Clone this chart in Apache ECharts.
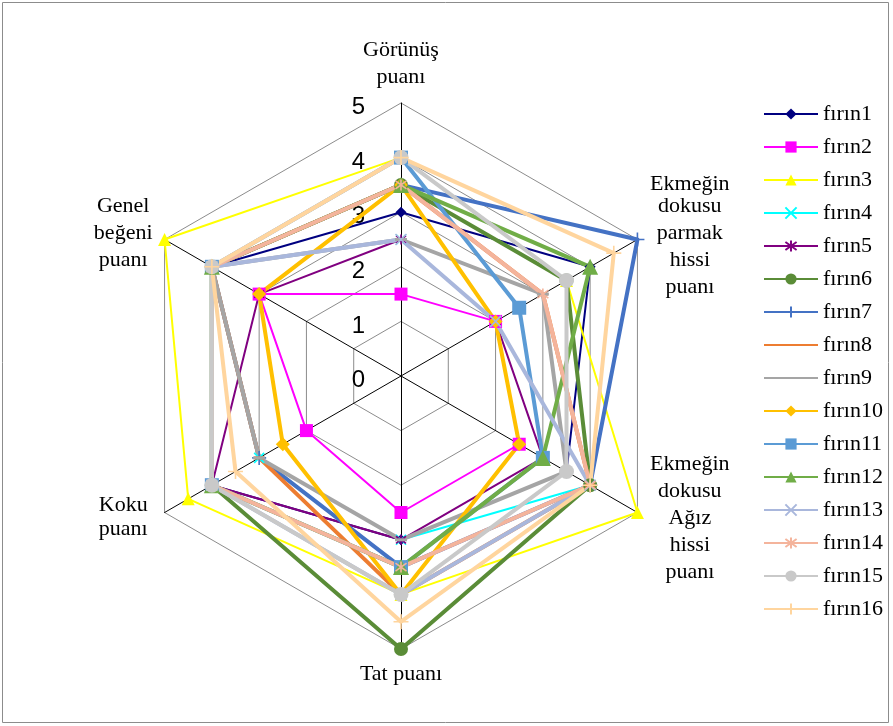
<!DOCTYPE html>
<html>
<head>
<meta charset="utf-8">
<script src="https://cdn.jsdelivr.net/npm/echarts@6/dist/echarts.min.js"></script>
<style>
html, body { margin: 0; padding: 0; background: #fff; }
#chart { width: 893px; height: 726px; }
</style>
</head>
<body>
<div id="chart"></div>
<script>
// Sensory criteria, listed clockwise starting from the top spoke
const criteria = [
  'Görünüş\npuanı',
  'Ekmeğin\ndokusu\nparmak\nhissi\npuanı',
  'Ekmeğin\ndokusu\nAğız\nhissi\npuanı',
  'Tat puanı',
  'Koku\npuanı',
  'Genel\nbeğeni\npuanı'
];
const scoreMin = 0;
const scoreMax = 5;

const ovens = ['fırın1', 'fırın2', 'fırın3', 'fırın4', 'fırın5', 'fırın6', 'fırın7', 'fırın8',
  'fırın9', 'fırın10', 'fırın11', 'fırın12', 'fırın13', 'fırın14', 'fırın15', 'fırın16'];

// Mean scores per oven, in the same order as the criteria
const firin1  = [3,   4,   3.5, 3,   4,   4];
const firin2  = [1.5, 2,   2.5, 2.5, 2,   3];
const firin3  = [4,   3.5, 5,   4,   4.5, 5];
const firin4  = [2.5, 2,   4,   3,   3,   4];
const firin5  = [2.5, 2,   3,   3,   4,   3];
const firin6  = [3.5, 3.5, 4,   5,   4,   4];
const firin7  = [3.5, 5,   4,   3.5, 3,   4];
const firin8  = [3.5, 3,   4,   4,   3,   4];
const firin9  = [2.5, 3,   3.5, 3,   3,   4];
const firin10 = [3.5, 2,   2.5, 4,   2.5, 3];
const firin11 = [4,   2.5, 3,   3.5, 4,   4];
const firin12 = [3.5, 4,   3,   3.5, 4,   4];
const firin13 = [2.5, 2,   4,   4,   4,   4];
const firin14 = [3.5, 3,   4,   3.5, 4,   4];
const firin15 = [4,   3.5, 3.5, 4,   4,   4];
const firin16 = [4,   4.5, 4,   4.5, 3.5, 4];

const scores = [firin1, firin2, firin3, firin4, firin5, firin6, firin7, firin8,
  firin9, firin10, firin11, firin12, firin13, firin14, firin15, firin16];

// Marker shapes
const CROSS = 'path://M0,0L10,10M10,0L0,10';
const STAR = 'path://M0,0L10,10M10,0L0,10M5,-2L5,12';
const PLUS = 'path://M0,5L10,5M5,0L5,10';

// dash markers: a flat rect on the web, nothing extra on the legend key
const styles = [
  { color: '#000080', symbol: 'diamond', size: 11, width: 2 },
  { color: '#FF00FF', symbol: 'rect', size: 13, width: 2 },
  { color: '#FFFF00', symbol: 'triangle', size: 13, width: 2 },
  { color: '#00FFFF', symbol: CROSS, size: 10, width: 2, stroke: true },
  { color: '#800080', symbol: STAR, size: 10, width: 2, stroke: true },
  { color: '#5A8C37', symbol: 'circle', size: 14, width: 4 },
  { color: '#4472C4', symbol: PLUS, size: 14, width: 4, stroke: true },
  { color: '#ED7D31', symbol: 'rect', size: [10, 3], width: 4, dash: true },
  { color: '#A5A5A5', symbol: 'rect', size: [12, 3], width: 4, dash: true },
  { color: '#FFC000', symbol: 'diamond', size: 14, width: 4 },
  { color: '#5B9BD5', symbol: 'rect', size: 14, width: 4 },
  { color: '#70AD47', symbol: 'triangle', size: 16, width: 4 },
  { color: '#A9B7DC', symbol: CROSS, size: 11, width: 4, stroke: true },
  { color: '#F4B49C', symbol: STAR, size: 11, width: 4, stroke: true },
  { color: '#C9C9C9', symbol: 'circle', size: 15, width: 4 },
  { color: '#FFD59E', symbol: PLUS, size: 15, width: 4, stroke: true }
];

// ECharts places radar indicators counter-clockwise; map the clockwise criteria onto that order
const order = [0, 5, 4, 3, 2, 1];

const serif = 'Liberation Serif, Times New Roman, serif';
const nameFont = { fontFamily: serif, fontSize: 22, lineHeight: 27, color: '#000' };

const indicator = order.map((k, i) => ({
  name: criteria[k],
  min: scoreMin,
  max: scoreMax,
  axisLabel: { show: i === 0 }
}));

function itemStyleOf(s) {
  return s.stroke
    ? { color: s.color, borderColor: s.color, borderWidth: 1.6 }
    : { color: s.color, borderWidth: 0 };
}

const radarSeries = ovens.map((name, i) => ({
  type: 'radar',
  name: name,
  symbol: styles[i].symbol,
  symbolSize: styles[i].size,
  lineStyle: { color: styles[i].color, width: styles[i].width },
  itemStyle: itemStyleOf(styles[i]),
  emphasis: { disabled: true },
  data: [{ name: name, value: order.map(k => scores[i][k]) }]
}));

// Empty line series carry the line-and-marker legend keys
const keySeries = ovens.map((name, i) => ({
  type: 'line',
  name: name,
  data: [],
  symbol: styles[i].symbol,
  symbolSize: styles[i].size,
  lineStyle: { color: styles[i].color, width: styles[i].width },
  itemStyle: styles[i].dash ? { color: 'rgba(0,0,0,0)', borderWidth: 0 } : itemStyleOf(styles[i])
}));

// Rich-text key for each line of a spoke name
function nameKey(name, lineIndex) {
  if (name.indexOf('parmak') >= 0) return lineIndex === 0 ? 'rt' : 'r';
  if (name.indexOf('Ağız') >= 0) return 'r';
  if (name.indexOf('Koku') === 0) return lineIndex === 1 ? 'lb' : 'l';
  if (name.indexOf('Genel') === 0) return 'l';
  return 'c';
}

const chart = echarts.init(document.getElementById('chart'), null, { renderer: 'canvas' });
chart.setOption({
  animation: false,
  backgroundColor: '#fff',
  graphic: [{
    type: 'rect',
    shape: { x: 2.5, y: 2.5, width: 886, height: 720 },
    style: { fill: 'none', stroke: '#8c8c8c', lineWidth: 1 },
    silent: true
  }],
  grid: { show: false, left: 0, top: 0, width: 1, height: 1 },
  xAxis: { type: 'category', show: false, data: [] },
  yAxis: { type: 'value', show: false },
  legend: {
    orient: 'vertical',
    left: 758,
    top: 98,
    itemWidth: 54,
    itemHeight: 14,
    itemGap: 11,
    selectedMode: false,
    data: ovens,
    textStyle: { fontFamily: serif, fontSize: 22, color: '#000' }
  },
  radar: {
    center: [401, 376],
    radius: 273,
    startAngle: 90,
    splitNumber: 5,
    shape: 'polygon',
    nameGap: 12,
    indicator: indicator,
    axisName: {
      color: '#000',
      formatter: function (name) {
        return name.split('\n').map((line, j) => '{' + nameKey(name, j) + '|' + line + '}').join('\n');
      },
      rich: {
        c: Object.assign({ align: 'center' }, nameFont),
        r: Object.assign({ width: 84, align: 'center' }, nameFont),
        rt: Object.assign({ width: 84, align: 'center', padding: [9, 0, 0, 0] }, nameFont),
        l: Object.assign({ width: 62, align: 'center' }, nameFont),
        lb: Object.assign({ width: 62, align: 'center', padding: [0, 0, 6, 0] }, nameFont)
      }
    },
    axisLine: { show: true, lineStyle: { color: '#000', width: 1 } },
    axisTick: { show: false },
    axisLabel: {
      show: false,
      color: '#000',
      margin: 36,
      formatter: '{v|{value}}',
      rich: {
        v: {
          fontFamily: 'Liberation Sans, Arial, sans-serif',
          fontSize: 24,
          color: '#000',
          padding: [9, 0, 0, 0]
        }
      }
    },
    splitLine: { lineStyle: { color: '#8c8c8c', width: 1 } },
    splitArea: { show: false }
  },
  series: keySeries.concat(radarSeries)
});
</script>
</body>
</html>
